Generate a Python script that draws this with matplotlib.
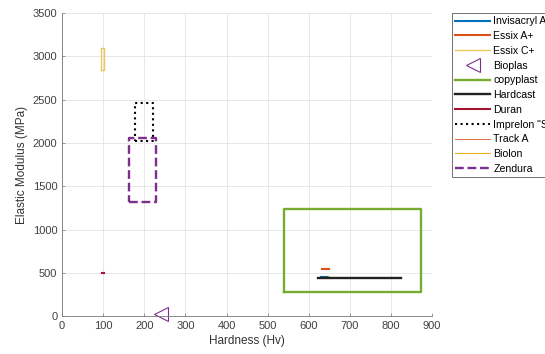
import matplotlib
matplotlib.use('Agg')
import matplotlib.pyplot as plt

plt.rcParams['font.family'] = ['Liberation Sans', 'DejaVu Sans']

# ranges: [hardness min, max], [modulus min, max]
invisacryl_hv = [630, 645]
invisacryl_e = [450, 450]
essixA_hv = [632, 650]
essixA_e = [550, 550]
essixC_hv = [95, 101]
essixC_e = [2840, 3100]
bioplas_hv = [240]
bioplas_e = [30]
copyplast_hv = [540, 872]
copyplast_e = [280, 1240]
hardcast_hv = [622, 823]
hardcast_e = [435, 435]
duran_hv = [98, 101]
duran_e = [500, 500]
imprelon_hv = [178, 221]
imprelon_e = [2020, 2460]
tracka_hv = [628, 640]
tracka_e = [445, 445]
biolon_hv = [630, 650]
biolon_e = [460, 460]
zendura_hv = [163, 229]
zendura_e = [1320, 2060]


def box(hv, e):
    xs = [hv[0], hv[1], hv[1], hv[0], hv[0]]
    ys = [e[0], e[0], e[1], e[1], e[0]]
    return xs, ys


fig = plt.figure(figsize=(5.45, 3.54), dpi=100)
ax = fig.add_axes([0.114, 0.107, 0.679, 0.856])

ax.plot(invisacryl_hv, invisacryl_e, color='#0072BD', lw=1.5, label='Invisacryl A')
ax.plot(essixA_hv, essixA_e, color='#D95319', lw=1.5, label='Essix A+')
x, y = box(essixC_hv, essixC_e)
ax.plot(x, y, color='#E8C860', lw=1.0, label='Essix C+')
ax.plot(bioplas_hv, bioplas_e, ls='none', marker='<', ms=10, mfc='none',
        mec='#7E2F8E', mew=0.8, label='Bioplas', clip_on=False)
x, y = box(copyplast_hv, copyplast_e)
ax.plot(x, y, color='#77AC30', lw=1.7, label='copyplast')
ax.plot(hardcast_hv, hardcast_e, color='#222222', lw=1.7, label='Hardcast')
ax.plot(duran_hv, duran_e, color='#A2142F', lw=1.5, label='Duran')
x, y = box(imprelon_hv, imprelon_e)
ax.plot(x, y, color='black', ls=':', lw=1.5, label='Imprelon "S"')
ax.plot(tracka_hv, tracka_e, color='#D95319', lw=0.6, label='Track A', zorder=1)
ax.plot(biolon_hv, biolon_e, color='#EDB120', lw=0.8, label='Biolon', zorder=1)
x, y = box(zendura_hv, zendura_e)
ax.plot(x, y, color='#7E2F8E', ls='--', lw=1.7, label='Zendura')

ax.set_xlim(0, 900)
ax.set_ylim(0, 3500)
ax.set_xticks(range(0, 901, 100))
ax.set_yticks(range(0, 3501, 500))
ax.grid(True, color='#e3e3e3', lw=0.6)
ax.set_axisbelow(True)
for s in ax.spines.values():
    s.set_color('#777777')
    s.set_linewidth(0.6)
ax.spines['top'].set_visible(False)
ax.spines['right'].set_visible(False)
ax.tick_params(direction='in', length=2.5, width=0.5, color='#777777',
               labelsize=8, labelcolor='#404040')
ax.set_xlabel('Hardness (Hv)', fontsize=8.5, color='#333333', labelpad=3)
ax.set_ylabel('Elastic Modulus (MPa)', fontsize=8.5, color='#333333', labelpad=3)

leg = ax.legend(loc='upper left', bbox_to_anchor=(1.054, 1.0), fontsize=7.6,
                frameon=True, fancybox=False, handlelength=3.3, handletextpad=0.3,
                labelspacing=0.45, borderpad=0.3, borderaxespad=0.0)
leg.get_frame().set_edgecolor('#333333')
leg.get_frame().set_linewidth(0.6)

fig.savefig('out.png', dpi=100)
